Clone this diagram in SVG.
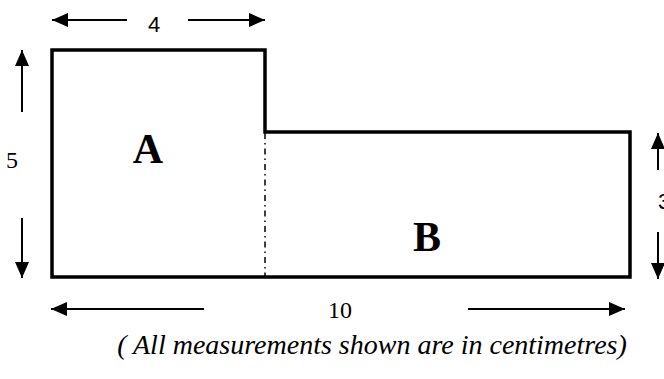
<svg xmlns="http://www.w3.org/2000/svg" width="664" height="379" viewBox="0 0 664 379">
<style>
.outline{fill:none;stroke:#000;stroke-width:3.5;stroke-linejoin:miter}
.dim{stroke:#000;stroke-width:2;fill:none}
.serif{font-family:'Liberation Serif','Times New Roman','DejaVu Serif',serif;fill:#000}
.sans{font-family:'Liberation Sans',Arial,sans-serif;fill:#000}
</style>
<defs>
<marker id="ahL" viewBox="0 0 16 14" refX="16" refY="7" markerWidth="16" markerHeight="14" markerUnits="userSpaceOnUse" orient="auto">
<path d="M0,0 L16,7 L0,14 Z" fill="#000"/>
</marker>
</defs>
<g id="shape">
<path class="outline" d="M52,50 L265,50 L265,132 L630,132 L630,277 L52,277 Z"/>
<line x1="265" y1="133" x2="265" y2="276" stroke="#000" stroke-width="1.5" stroke-dasharray="6,4,1.5,4"/>
</g>
<g id="regionA"><text class="serif" x="148" y="163" font-size="42" font-weight="bold" text-anchor="middle">A</text></g>
<g id="regionB"><text class="serif" x="427" y="251" font-size="42" font-weight="bold" text-anchor="middle">B</text></g>
<g id="connectors">
<line class="dim" x1="127" y1="20" x2="52" y2="20" marker-end="url(#ahL)"/>
<line class="dim" x1="188" y1="20" x2="265" y2="20" marker-end="url(#ahL)"/>
<line class="dim" x1="22" y1="112" x2="22" y2="50" marker-end="url(#ahL)"/>
<line class="dim" x1="22" y1="218" x2="22" y2="278" marker-end="url(#ahL)"/>
<line class="dim" x1="658" y1="170" x2="658" y2="133" marker-end="url(#ahL)"/>
<line class="dim" x1="658" y1="232" x2="658" y2="279" marker-end="url(#ahL)"/>
<line class="dim" x1="204" y1="309" x2="51" y2="309" marker-end="url(#ahL)"/>
<line class="dim" x1="468" y1="309" x2="625" y2="309" marker-end="url(#ahL)"/>
</g>
<g id="labels">
<text class="sans" x="154" y="32" font-size="22" text-anchor="middle">4</text>
<text class="serif" x="12" y="168" font-size="24" text-anchor="middle">5</text>
<text class="sans" x="658" y="209" font-size="22" text-anchor="start">3</text>
<text class="serif" x="340" y="318" font-size="24" text-anchor="middle">10</text>
<text class="serif" x="372" y="354" font-size="28" font-style="italic" text-anchor="middle">( All measurements shown are in centimetres)</text>
</g>
</svg>
